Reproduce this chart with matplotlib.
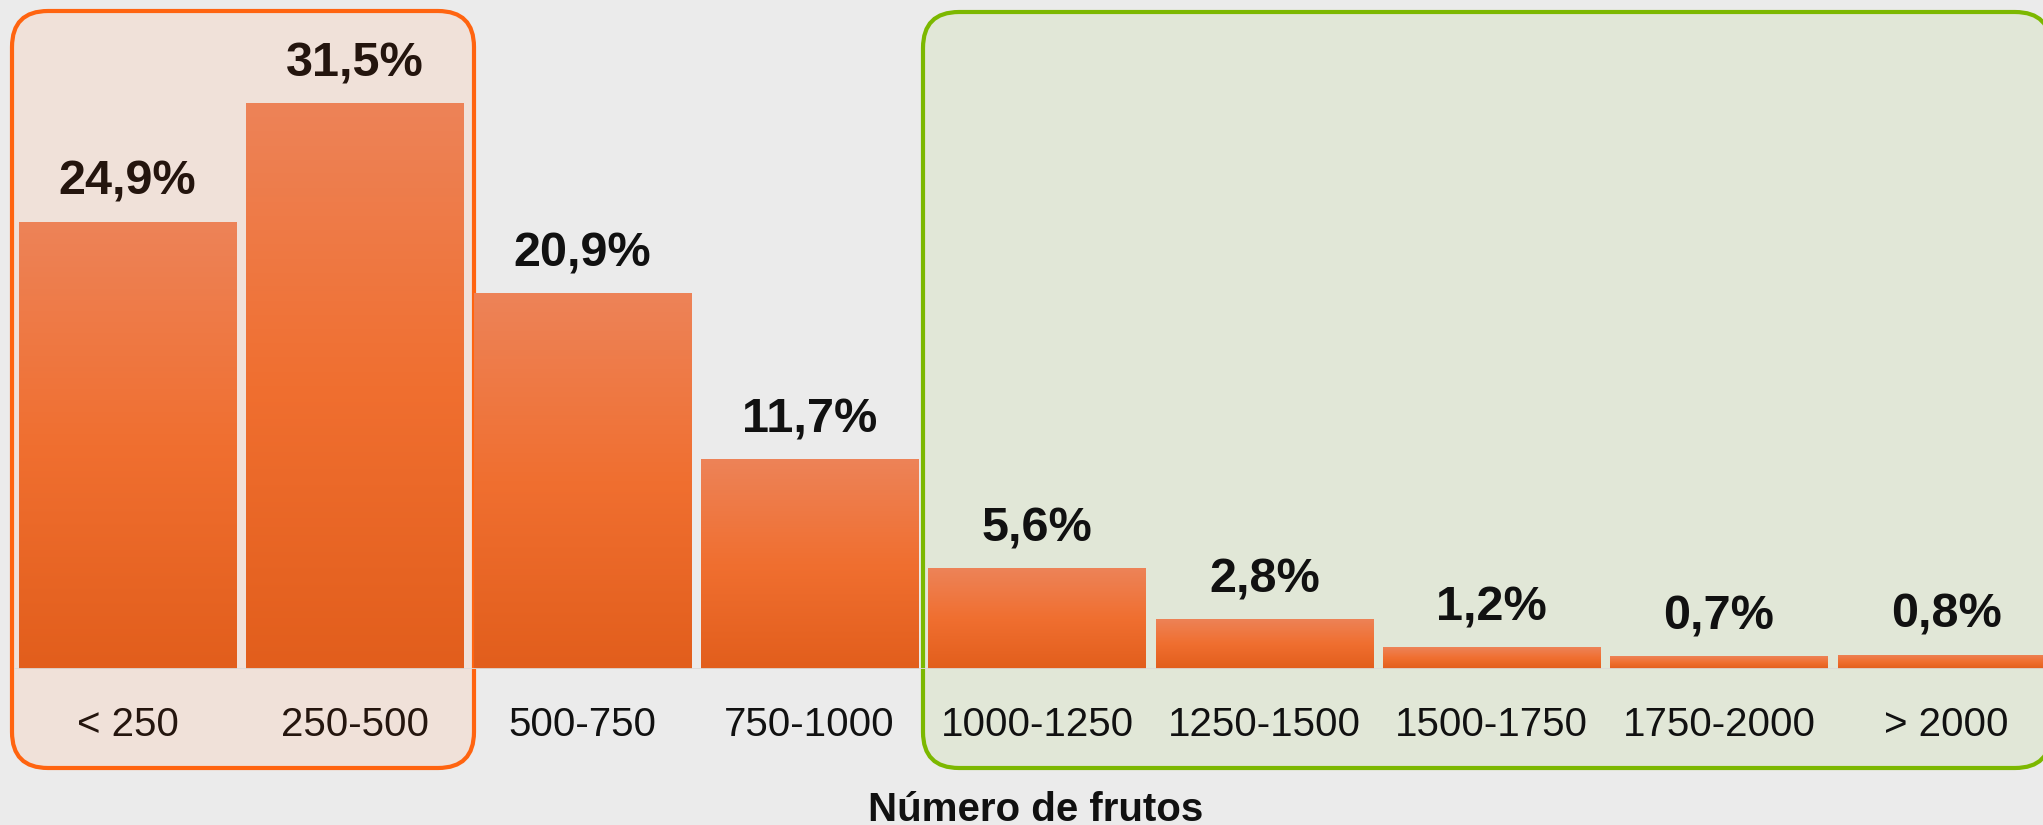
import numpy as np
import matplotlib
matplotlib.use("Agg")
import matplotlib.pyplot as plt
from matplotlib.colors import LinearSegmentedColormap
from matplotlib.patches import FancyBboxPatch
from matplotlib.transforms import IdentityTransform

plt.rcParams['font.family'] = ['Liberation Sans', 'DejaVu Sans']

categories = ['< 250', '250-500', '500-750', '750-1000', '1000-1250',
              '1250-1500', '1500-1750', '1750-2000', '> 2000']
values = [24.9, 31.5, 20.9, 11.7, 5.6, 2.8, 1.2, 0.7, 0.8]
value_labels = ['24,9%', '31,5%', '20,9%', '11,7%', '5,6%',
                '2,8%', '1,2%', '0,7%', '0,8%']

W, H = 2043, 825
fig = plt.figure(figsize=(W / 100, H / 100), dpi=100)
fig.patch.set_facecolor('#ebebeb')

# highlight boxes behind the chart (pixel coords, origin bottom-left)
orange_box = FancyBboxPatch((12, H - 768), 462, 757,
                            boxstyle='round,pad=0,rounding_size=36',
                            transform=IdentityTransform(),
                            facecolor='#f0e1d9', edgecolor='#ff6410',
                            linewidth=3, zorder=-5)
green_box = FancyBboxPatch((923, H - 768), 1128, 756,
                           boxstyle='round,pad=0,rounding_size=36',
                           transform=IdentityTransform(),
                           facecolor='#e1e7d7', edgecolor='#7cb800',
                           linewidth=3, zorder=-5)
fig.patches.extend([orange_box, green_box])

ax = fig.add_axes([14 / W, 156 / H, 2046 / W, (H - 156) / H])
ax.set_facecolor('none')
ax.set_xlim(-0.5, len(categories) - 0.5)
ax.set_ylim(0, (H - 156) / 17.97)

grad = LinearSegmentedColormap.from_list(
    'bar', ['#e25e1c', '#f06f30', '#ed8358'])
gimg = np.linspace(0, 1, 256).reshape(-1, 1)

x = np.arange(len(categories))
bw = 0.955
bars = ax.bar(x, values, width=bw, color='#ef6f30', zorder=2)
for b in bars:
    x0, y0 = b.get_x(), b.get_y()
    im = ax.imshow(gimg, cmap=grad, origin='lower', aspect='auto',
                   extent=(x0, x0 + b.get_width(), y0, y0 + b.get_height()),
                   zorder=3)
    im.set_clip_path(b)

ax.axhline(0, color='#dcdad8', lw=2, zorder=4)

for i, (v, lab) in enumerate(zip(values, value_labels)):
    col = '#24150e' if i < 2 else '#111111'
    ax.annotate(lab, (i, v), xytext=(0, 12), textcoords='offset points',
                ha='center', va='bottom', fontsize=35, fontweight='bold',
                color=col)

ax.set_xticks(x)
ax.set_xticklabels(categories, fontsize=29)
for i, t in enumerate(ax.get_xticklabels()):
    t.set_color('#24150e' if i < 2 else '#111111')
ax.tick_params(axis='x', length=0, pad=27)
ax.set_yticks([])
for s in ax.spines.values():
    s.set_visible(False)

fig.text(1036 / W, (H - 810) / H, 'Número de frutos',
         ha='center', va='center', fontsize=29, fontweight='bold',
         color='#111111')

fig.savefig('out.png', dpi=100, facecolor=fig.get_facecolor())
